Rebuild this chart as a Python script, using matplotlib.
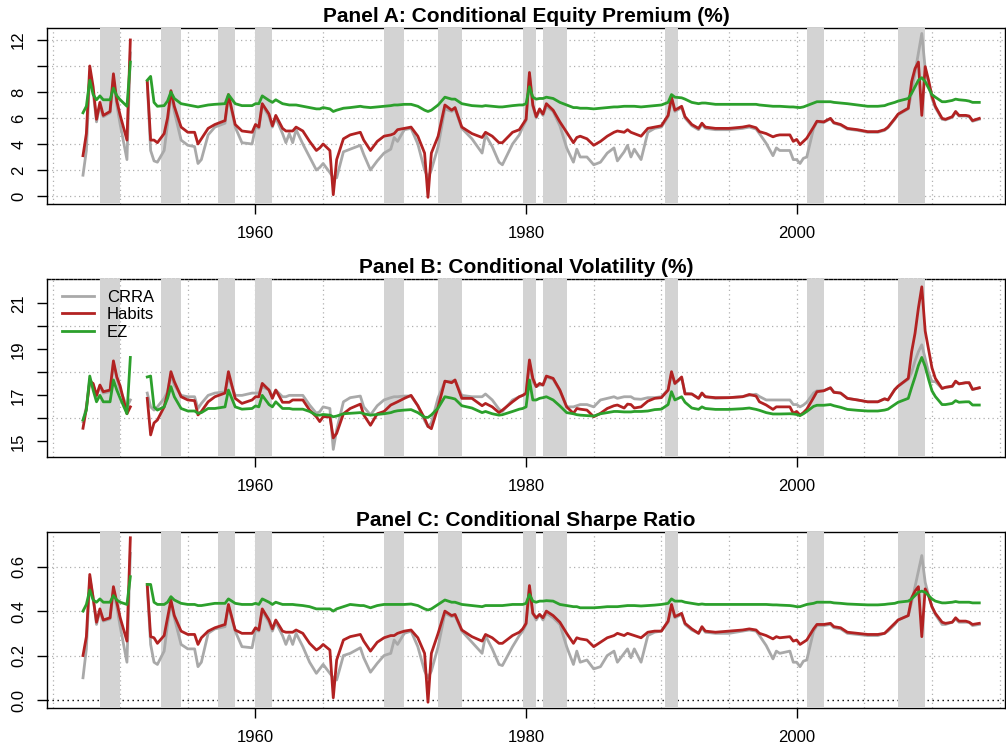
import numpy as np
import matplotlib
matplotlib.use('Agg')
import matplotlib.pyplot as plt

plt.rcParams['font.family'] = ['Liberation Sans', 'DejaVu Sans']

nan = np.nan

# quarterly dates (decimal years) of the line vertices; 1951.4 marks the gap in the data
dates = [1947.25, 1947.5, 1947.75, 1948.0, 1948.25, 1948.5, 1948.75, 1949.25, 1949.5, 1949.75, 1950.0, 1950.5, 1950.75,
         1951.4,
         1952.0, 1952.25, 1952.5, 1952.75, 1953.25, 1953.5, 1953.75, 1954.0, 1954.5, 1955.0, 1955.5, 1955.75, 1956.0, 1956.5, 1957.0, 1957.75, 1958.0, 1958.5, 1959.0, 1959.75,
         1960.0, 1960.25, 1960.5, 1961.0, 1961.25, 1961.5, 1962.0, 1962.25, 1962.5, 1962.75, 1963.0, 1963.5, 1964.0, 1964.5, 1964.75, 1965.0, 1965.5, 1965.75, 1966.0, 1966.5, 1967.0, 1967.75, 1968.0, 1968.5, 1969.0, 1969.5,
         1970.0, 1970.25, 1970.5, 1971.0, 1971.5, 1972.0, 1972.5, 1972.75, 1973.0, 1973.5, 1974.0, 1974.5, 1974.75, 1975.25, 1976.0, 1976.75, 1977.0, 1977.5, 1978.0, 1978.25, 1979.0, 1979.5, 1979.75,
         1980.0, 1980.25, 1980.5, 1980.75, 1981.0, 1981.25, 1981.5, 1982.0, 1982.5, 1983.0, 1983.5, 1983.75, 1984.0, 1984.5, 1985.0, 1985.5, 1986.0, 1986.5, 1986.75, 1987.25, 1987.5, 1987.75, 1988.0, 1988.5, 1989.0, 1989.5,
         1990.0, 1990.5, 1990.75, 1991.0, 1991.5, 1991.75, 1992.25, 1992.75, 1993.0, 1993.25, 1994.0, 1995.0, 1996.0, 1996.5, 1997.0, 1997.25, 1997.75, 1998.25, 1998.5, 1998.75, 1999.5, 1999.75,
         2000.0, 2000.25, 2000.5, 2000.75, 2001.25, 2001.5, 2002.0, 2002.5, 2002.75, 2003.25, 2003.75, 2004.5, 2005.25, 2006.0, 2006.5, 2006.75, 2007.25, 2007.5, 2008.25, 2008.5, 2008.75, 2009.0, 2009.25, 2009.5, 2009.75,
         2010.0, 2010.25, 2010.75, 2011.0, 2011.5, 2011.75, 2012.0, 2012.5, 2012.75, 2013.0, 2013.5]

# Panel A: conditional equity premium (%)
crra_ep = [1.6, 3.5, 9.5, 8.0, 5.7, 7.0, 6.1, 6.4, 9.0, 7.0, 5.5, 2.8, 11.0,
           nan,
           8.7, 3.5, 2.7, 2.6, 3.5, 5.5, 7.9, 6.5, 4.3, 3.9, 3.8, 2.5, 2.8, 4.7, 5.3, 5.6, 7.7, 5.3, 4.1, 4.0,
           5.3, 5.2, 7.0, 6.1, 5.3, 6.0, 4.8, 4.1, 4.8, 4.1, 5.1, 4.0, 3.0, 2.0, 2.2, 2.5, 1.8, 1.4, 1.4, 3.4, 3.6, 3.9, 3.2, 2.0, 2.7, 3.3,
           3.6, 4.5, 4.2, 5.1, 5.2, 4.0, 2.0, 1.4, 2.0, 3.8, 6.7, 6.5, 6.7, 5.2, 4.4, 3.3, 4.7, 3.8, 2.6, 2.4, 4.0, 4.7, 5.3,
           5.8, 9.3, 6.9, 6.0, 6.6, 6.2, 6.9, 6.5, 5.4, 3.7, 2.6, 3.6, 3.0, 3.0, 2.4, 2.6, 3.3, 3.7, 2.7, 3.4, 3.9, 3.0, 3.6, 2.8, 4.9, 5.2,
           5.3, 6.1, 7.5, 6.5, 6.8, 6.0, 5.4, 5.1, 5.5, 5.2, 5.1, 5.1, 5.2, 5.3, 5.15, 4.8, 4.05, 3.1, 3.7, 3.5, 3.5, 2.8,
           2.8, 2.5, 2.9, 3.0, 5.2, 5.7, 5.65, 5.95, 5.6, 5.45, 5.15, 5.05, 4.9, 4.9, 5.05, 5.25, 5.9, 6.25, 6.7, 8.0, 9.5, 11.0, 12.5, 9.8, 8.6,
           7.5, 6.8, 5.9, 5.85, 6.05, 6.45, 6.15, 6.15, 6.1, 5.75, 5.9]
habit_ep = [3.1, 4.8, 10.0, 8.4, 5.9, 7.2, 6.2, 6.5, 9.4, 7.3, 6.2, 4.3, 12.0,
            nan,
            8.8, 4.3, 4.3, 4.1, 4.8, 6.0, 8.1, 6.9, 5.3, 4.9, 4.9, 4.0, 4.4, 5.2, 5.5, 5.8, 7.8, 5.5, 5.0, 4.9,
            5.5, 5.3, 7.1, 6.3, 5.4, 6.2, 5.2, 5.0, 5.0, 5.0, 5.3, 5.0, 4.2, 3.5, 3.7, 4.0, 3.5, 0.1, 2.8, 4.4, 4.7, 4.9, 4.3, 3.5, 4.2, 4.6,
            4.7, 4.8, 5.1, 5.2, 5.3, 4.6, 3.3, -0.1, 3.3, 4.6, 7.0, 6.6, 6.8, 5.3, 4.8, 4.5, 4.9, 4.6, 4.1, 4.1, 4.9, 5.1, 5.5,
            5.9, 9.5, 7.0, 6.1, 6.7, 6.3, 7.1, 6.6, 5.7, 4.9, 4.1, 4.5, 4.6, 4.4, 3.9, 4.2, 4.6, 4.9, 5.0, 4.9, 5.1, 4.9, 4.8, 4.6, 5.2, 5.3,
            5.4, 6.2, 7.6, 6.6, 6.9, 6.1, 5.5, 5.2, 5.6, 5.3, 5.2, 5.2, 5.3, 5.4, 5.25, 4.95, 4.8, 4.55, 4.65, 4.7, 4.7, 4.2,
            4.35, 3.95, 4.2, 4.45, 5.3, 5.75, 5.7, 5.97, 5.64, 5.5, 5.2, 5.1, 4.95, 4.95, 5.1, 5.3, 5.95, 6.3, 6.75, 8.8, 9.8, 10.3, 6.2, 9.95, 8.9,
            7.7, 6.9, 5.97, 5.9, 6.1, 6.5, 6.2, 6.2, 6.15, 5.8, 5.97]
ez_ep = [6.4, 6.9, 8.9, 7.8, 7.4, 7.7, 7.4, 7.4, 8.3, 7.7, 7.4, 6.9, 10.3,
         nan,
         8.9, 9.2, 7.2, 6.9, 6.95, 7.3, 8.0, 7.5, 7.1, 7.0, 6.9, 6.85, 6.9, 7.0, 7.05, 7.1, 7.8, 7.1, 6.95, 6.95,
         7.1, 7.1, 7.7, 7.35, 7.2, 7.4, 7.1, 7.05, 7.0, 7.0, 7.0, 6.9, 6.8, 6.7, 6.7, 6.8, 6.7, 6.5, 6.6, 6.75, 6.8, 6.9, 6.85, 6.8, 6.85, 6.9,
         6.95, 7.0, 7.0, 7.05, 7.05, 6.9, 6.6, 6.5, 6.6, 7.0, 7.6, 7.45, 7.45, 7.1, 6.95, 6.9, 6.95, 6.9, 6.85, 6.85, 6.95, 7.0, 7.0,
         7.1, 8.4, 7.6, 7.45, 7.5, 7.5, 7.6, 7.5, 7.2, 7.0, 6.8, 6.8, 6.75, 6.75, 6.7, 6.75, 6.8, 6.85, 6.85, 6.9, 6.9, 6.9, 6.9, 6.85, 6.9, 6.95,
         7.0, 7.2, 7.8, 7.6, 7.55, 7.45, 7.2, 7.1, 7.15, 7.15, 7.05, 7.05, 7.05, 7.05, 7.05, 7.0, 6.95, 6.9, 6.9, 6.9, 6.85, 6.85,
         6.82, 6.8, 6.85, 6.95, 7.15, 7.25, 7.25, 7.25, 7.2, 7.15, 7.1, 7.0, 6.9, 6.9, 6.95, 7.05, 7.2, 7.3, 7.5, 7.9, 8.4, 8.9, 9.1, 8.8, 8.3,
         7.8, 7.6, 7.25, 7.25, 7.35, 7.45, 7.4, 7.35, 7.3, 7.2, 7.2]

# Panel B: conditional volatility (%)
crra_vol = [15.86, 16.5, 17.7, 17.45, 16.94, 17.4, 17.1, 17.16, 18.4, 17.75, 17.23, 16.5, 16.8,
            nan,
            17.1, 16.5, 16.36, 16.5, 16.87, 17.16, 17.9, 17.45, 17.0, 16.94, 16.94, 16.43, 16.65, 17.0, 17.1, 17.15, 17.8, 17.0, 17.0, 17.1,
            17.1, 17.1, 17.38, 17.23, 16.94, 17.23, 16.94, 16.94, 17.0, 17.0, 17.0, 17.0, 16.58, 16.22, 16.29, 16.5, 16.43, 14.65, 15.5, 16.72, 16.9, 16.97, 16.5, 16.15, 16.55, 16.8,
            16.9, 16.94, 16.94, 16.97, 16.97, 16.55, 15.9, 15.64, 15.8, 16.9, 17.6, 17.62, 17.64, 17.0, 16.94, 16.94, 17.06, 16.8, 16.4, 16.3, 16.8, 16.94, 17.0,
            17.05, 18.4, 17.6, 17.38, 17.45, 17.45, 17.8, 17.7, 17.2, 16.5, 16.5, 16.55, 16.6, 16.6, 16.5, 16.8, 16.87, 16.94, 16.87, 16.94, 16.94, 16.94, 16.85, 16.83, 16.9, 16.9,
            16.94, 17.25, 17.96, 17.5, 17.75, 17.1, 17.06, 16.87, 17.1, 16.94, 16.87, 16.9, 16.95, 17.0, 17.05, 16.95, 16.8, 16.8, 16.8, 16.8, 16.8, 16.6,
            16.6, 16.5, 16.58, 16.7, 17.1, 17.2, 17.2, 17.33, 17.15, 17.1, 16.87, 16.8, 16.72, 16.72, 16.85, 16.8, 17.25, 17.4, 17.7, 18.0, 18.5, 18.9, 19.2, 18.6, 18.0,
            17.6, 17.6, 17.3, 17.35, 17.38, 17.6, 17.5, 17.55, 17.55, 17.25, 17.33]
habit_vol = [15.57, 16.43, 17.6, 17.52, 17.0, 17.45, 17.16, 17.23, 18.5, 17.8, 17.4, 16.2, 16.5,
             nan,
             16.87, 15.28, 15.8, 15.93, 16.5, 17.1, 18.03, 17.6, 16.94, 16.8, 16.77, 16.15, 16.3, 16.72, 16.94, 17.1, 18.03, 16.87, 16.65, 16.8,
             16.94, 16.94, 17.52, 17.23, 16.87, 17.23, 16.7, 16.7, 16.7, 16.8, 16.8, 16.8, 16.36, 16.07, 15.86, 16.07, 16.07, 15.15, 15.35, 16.2, 16.43, 16.62, 16.15, 15.7, 16.2, 16.3,
             16.58, 16.65, 16.72, 16.87, 17.0, 16.55, 16.0, 15.65, 15.55, 16.5, 17.62, 17.55, 17.67, 16.87, 16.87, 16.55, 16.65, 16.5, 16.25, 16.36, 16.72, 16.94, 17.0,
             17.1, 18.54, 17.74, 17.38, 17.52, 17.45, 17.84, 17.74, 17.23, 16.5, 16.22, 16.43, 16.4, 16.36, 16.07, 16.22, 16.43, 16.55, 16.58, 16.45, 16.62, 16.6, 16.45, 16.5, 16.75, 16.87,
             16.9, 17.23, 18.03, 17.52, 17.8, 17.06, 17.06, 16.87, 17.1, 16.94, 16.9, 16.9, 16.94, 17.04, 16.97, 16.72, 16.58, 16.39, 16.5, 16.5, 16.5, 16.22,
             16.3, 16.14, 16.25, 16.4, 16.9, 17.16, 17.2, 17.33, 17.13, 17.1, 16.87, 16.8, 16.72, 16.72, 16.85, 16.8, 17.25, 17.4, 17.74, 18.9, 19.7, 20.8, 21.72, 19.8, 19.0,
             18.2, 17.74, 17.3, 17.35, 17.4, 17.62, 17.5, 17.55, 17.55, 17.26, 17.33]
ez_vol = [15.93, 16.36, 17.84, 17.23, 16.72, 17.0, 16.72, 16.72, 17.67, 17.23, 16.87, 16.2, 18.65,
          nan,
          17.8, 17.84, 16.5, 16.36, 16.5, 16.87, 17.38, 16.94, 16.43, 16.32, 16.32, 16.22, 16.25, 16.43, 16.43, 16.5, 17.23, 16.5, 16.4, 16.43,
          16.54, 16.5, 17.0, 16.6, 16.5, 16.72, 16.43, 16.43, 16.43, 16.4, 16.4, 16.4, 16.3, 16.14, 16.14, 16.17, 16.14, 16.07, 16.1, 16.2, 16.22, 16.25, 16.2, 16.14, 16.17, 16.2,
          16.25, 16.3, 16.33, 16.36, 16.38, 16.25, 16.05, 16.04, 16.15, 16.45, 16.94, 16.88, 16.84, 16.55, 16.45, 16.25, 16.3, 16.2, 16.14, 16.16, 16.3, 16.4, 16.43,
          16.5, 17.67, 16.8, 16.8, 16.87, 16.9, 16.94, 16.8, 16.54, 16.25, 16.2, 16.16, 16.14, 16.12, 16.1, 16.2, 16.25, 16.3, 16.3, 16.28, 16.28, 16.28, 16.3, 16.3, 16.32, 16.38,
          16.4, 16.6, 17.16, 16.8, 16.94, 16.7, 16.45, 16.39, 16.5, 16.43, 16.39, 16.39, 16.42, 16.45, 16.39, 16.35, 16.25, 16.19, 16.19, 16.19, 16.2, 16.19,
          16.17, 16.12, 16.2, 16.3, 16.52, 16.57, 16.57, 16.6, 16.55, 16.48, 16.39, 16.35, 16.32, 16.32, 16.36, 16.4, 16.6, 16.7, 16.87, 17.35, 17.8, 18.3, 18.65, 18.25, 17.7,
          17.2, 16.95, 16.6, 16.6, 16.65, 16.77, 16.7, 16.72, 16.72, 16.58, 16.58]

# Panel C: conditional Sharpe ratio
crra_sr = [0.10, 0.23, 0.55, 0.46, 0.34, 0.40, 0.355, 0.365, 0.49, 0.42, 0.33, 0.17, 0.66,
           nan,
           0.51, 0.25, 0.17, 0.16, 0.22, 0.34, 0.44, 0.37, 0.25, 0.23, 0.23, 0.15, 0.17, 0.30, 0.32, 0.33, 0.425, 0.31, 0.24, 0.235,
           0.315, 0.31, 0.40, 0.35, 0.31, 0.35, 0.29, 0.25, 0.29, 0.25, 0.30, 0.24, 0.17, 0.12, 0.14, 0.16, 0.12, 0.10, 0.09, 0.20, 0.21, 0.235, 0.19, 0.125, 0.165, 0.20,
           0.21, 0.27, 0.25, 0.30, 0.31, 0.24, 0.13, 0.10, 0.13, 0.24, 0.39, 0.375, 0.38, 0.31, 0.26, 0.21, 0.29, 0.23, 0.16, 0.155, 0.24, 0.29, 0.31,
           0.34, 0.50, 0.39, 0.36, 0.385, 0.36, 0.39, 0.37, 0.34, 0.24, 0.16, 0.22, 0.17, 0.18, 0.14, 0.15, 0.20, 0.22, 0.17, 0.21, 0.23, 0.19, 0.23, 0.17, 0.29, 0.305,
           0.31, 0.35, 0.42, 0.37, 0.385, 0.34, 0.315, 0.30, 0.325, 0.305, 0.30, 0.30, 0.31, 0.315, 0.31, 0.29, 0.245, 0.185, 0.22, 0.21, 0.22, 0.17,
           0.17, 0.15, 0.175, 0.18, 0.31, 0.335, 0.335, 0.34, 0.325, 0.32, 0.30, 0.295, 0.29, 0.29, 0.30, 0.31, 0.34, 0.36, 0.38, 0.44, 0.51, 0.58, 0.65, 0.53, 0.47,
           0.42, 0.385, 0.34, 0.34, 0.35, 0.365, 0.35, 0.35, 0.35, 0.335, 0.34]
habit_sr = [0.20, 0.285, 0.565, 0.46, 0.35, 0.41, 0.36, 0.37, 0.51, 0.44, 0.37, 0.265, 0.73,
            nan,
            0.52, 0.285, 0.28, 0.255, 0.29, 0.37, 0.45, 0.38, 0.31, 0.295, 0.295, 0.25, 0.28, 0.31, 0.325, 0.34, 0.43, 0.315, 0.30, 0.30,
            0.325, 0.315, 0.41, 0.36, 0.32, 0.36, 0.31, 0.305, 0.305, 0.305, 0.315, 0.30, 0.255, 0.225, 0.235, 0.25, 0.225, 0.01, 0.18, 0.27, 0.285, 0.295, 0.265, 0.22, 0.26, 0.28,
            0.29, 0.29, 0.30, 0.31, 0.315, 0.28, 0.21, -0.01, 0.21, 0.30, 0.40, 0.38, 0.385, 0.315, 0.285, 0.265, 0.295, 0.28, 0.255, 0.255, 0.29, 0.305, 0.32,
            0.345, 0.515, 0.39, 0.37, 0.385, 0.37, 0.40, 0.38, 0.35, 0.30, 0.255, 0.28, 0.275, 0.27, 0.24, 0.26, 0.28, 0.29, 0.30, 0.29, 0.30, 0.295, 0.29, 0.28, 0.305, 0.31,
            0.31, 0.355, 0.43, 0.375, 0.39, 0.345, 0.32, 0.30, 0.33, 0.31, 0.305, 0.31, 0.315, 0.32, 0.315, 0.30, 0.29, 0.275, 0.285, 0.28, 0.285, 0.265,
            0.27, 0.25, 0.26, 0.27, 0.32, 0.34, 0.34, 0.345, 0.33, 0.325, 0.305, 0.30, 0.295, 0.295, 0.30, 0.315, 0.345, 0.36, 0.38, 0.46, 0.49, 0.51, 0.285, 0.50, 0.47,
            0.42, 0.39, 0.35, 0.345, 0.35, 0.37, 0.355, 0.355, 0.35, 0.34, 0.345]
ez_sr = [0.40, 0.43, 0.495, 0.45, 0.44, 0.455, 0.44, 0.44, 0.47, 0.45, 0.44, 0.43, 0.555,
         nan,
         0.52, 0.52, 0.44, 0.43, 0.43, 0.44, 0.465, 0.45, 0.435, 0.43, 0.43, 0.425, 0.425, 0.43, 0.435, 0.435, 0.455, 0.435, 0.43, 0.43,
         0.435, 0.43, 0.455, 0.44, 0.43, 0.44, 0.43, 0.43, 0.43, 0.43, 0.428, 0.425, 0.42, 0.41, 0.41, 0.41, 0.41, 0.40, 0.41, 0.42, 0.43, 0.425, 0.425, 0.415, 0.425, 0.43,
         0.43, 0.43, 0.43, 0.43, 0.432, 0.425, 0.41, 0.405, 0.41, 0.43, 0.45, 0.44, 0.44, 0.43, 0.425, 0.42, 0.425, 0.425, 0.425, 0.425, 0.43, 0.43, 0.43,
         0.435, 0.475, 0.445, 0.44, 0.445, 0.445, 0.447, 0.445, 0.43, 0.425, 0.42, 0.42, 0.415, 0.415, 0.415, 0.417, 0.42, 0.42, 0.42, 0.423, 0.425, 0.425, 0.425, 0.423, 0.425, 0.427,
         0.43, 0.435, 0.455, 0.445, 0.445, 0.44, 0.435, 0.43, 0.432, 0.43, 0.43, 0.43, 0.43, 0.43, 0.43, 0.43, 0.43, 0.428, 0.428, 0.427, 0.425, 0.423,
         0.42, 0.42, 0.425, 0.43, 0.435, 0.44, 0.44, 0.44, 0.437, 0.435, 0.432, 0.43, 0.428, 0.428, 0.43, 0.432, 0.435, 0.44, 0.445, 0.455, 0.47, 0.485, 0.49, 0.485, 0.47,
         0.455, 0.445, 0.437, 0.437, 0.44, 0.443, 0.44, 0.44, 0.44, 0.437, 0.437]

# shaded recession periods (start, end)
recessions = [(1948.5, 1950.0), (1953.0, 1954.5), (1957.25, 1958.5), (1960.0, 1961.25),
              (1969.5, 1971.0), (1973.5, 1975.25), (1979.75, 1980.75), (1981.25, 1983.0),
              (1990.25, 1991.25), (2000.75, 2002.0), (2007.5, 2009.5)]

models = ['CRRA', 'Habits', 'EZ']
colors = ['#a9a9a9', '#b22222', '#2ca02c']

panels = [
    dict(title='Panel A: Conditional Equity Premium (%)', series=[crra_ep, habit_ep, ez_ep],
         ylim=(-0.615, 12.92), yticks=[0, 2, 4, 6, 8, 10, 12], ylabels=['0', '2', '4', '6', '8', '', '12'],
         grid=[0, 2, 4, 6, 8, 10, 12], box=[47, 28, 1005, 204]),
    dict(title='Panel B: Conditional Volatility (%)', series=[crra_vol, habit_vol, ez_vol],
         ylim=(14.32, 22.06), yticks=[15, 16, 17, 18, 19, 20, 21], ylabels=['15', '', '17', '', '19', '', '21'],
         grid=[16, 18, 20], box=[47, 279, 1005, 457]),
    dict(title='Panel C: Conditional Sharpe Ratio', series=[crra_sr, habit_sr, ez_sr],
         ylim=(-0.036, 0.756), yticks=[0.0, 0.2, 0.4, 0.6], ylabels=['0.0', '0.2', '0.4', '0.6'],
         grid=[0.2, 0.4, 0.6], box=[47, 532, 1005, 708]),
]

W, H = 1006, 751
fig = plt.figure(figsize=(W / 100, H / 100), dpi=100)
dot = (0, (1, 2.6))

for i, p in enumerate(panels):
    x0, y0, x1, y1 = p['box']
    ax = fig.add_axes([x0 / W, 1 - y1 / H, (x1 - x0) / W, (y1 - y0) / H])
    ax.set_xlim(1944.59, 2015.4)
    ax.set_ylim(*p['ylim'])

    # dotted grid under the shading
    for gx in range(1945, 2020, 5):
        ax.axvline(gx, color='#b0b0b0', lw=0.9, ls=dot, zorder=1)
    for gy in p['grid']:
        ax.axhline(gy, color='#b0b0b0', lw=0.9, ls=dot, zorder=1)
    if i == 2:
        ax.axhline(0, color='black', lw=1.0, ls=dot, zorder=1.5)

    for a, b in recessions:
        ax.axvspan(a, b, color='#d3d3d3', lw=0, zorder=3)

    handles = []
    for vals, name, col in zip(p['series'], models, colors):
        ln, = ax.plot(dates, vals, color=col, lw=2.0, label=name, zorder=4,
                      solid_joinstyle='round')
        handles.append(ln)

    ax.set_xticks([1960, 1980, 2000])
    ax.set_yticks(p['yticks'])
    ax.set_yticklabels(p['ylabels'], rotation=90, va='center')
    ax.tick_params(axis='both', direction='out', length=7, width=1, labelsize=12, colors='black')
    ax.tick_params(axis='x', pad=9)
    ax.tick_params(axis='y', pad=8)
    for s in ax.spines.values():
        s.set_linewidth(1.0)
    if i == 1:
        ax.spines['top'].set_linestyle((0, (2, 1.2)))

    ax.set_title(p['title'], fontsize=15, fontweight='bold', pad=4)

    if i == 1:
        ax.legend(handles=handles, loc='upper left', bbox_to_anchor=(0.0157, 0.94),
                  frameon=False, fontsize=12, handlelength=1.9, handletextpad=0.8,
                  labelspacing=0.15, borderaxespad=0, borderpad=0)

fig.savefig('out.png', dpi=100)
